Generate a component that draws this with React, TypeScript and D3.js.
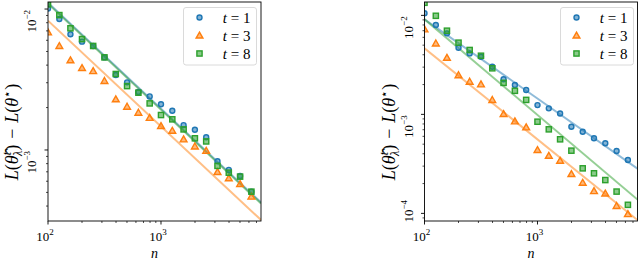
import React, { useEffect } from "react";
import * as d3 from "d3";

// sample sizes n (same for both panels)
const nValues = [100, 126, 158, 200, 251, 316, 398, 501, 631, 794, 1000, 1259, 1585, 1995, 2512, 3162, 3981, 5012, 6310];
const seriesLabels = ["1", "3", "8"];
const colors = ["#1f77b4", "#ff7f0e", "#2ca02c"];

// left panel: excess risk per t
const leftT1 = [0.0101, 0.00849, 0.00663, 0.00587, 0.00547, 0.00454, 0.0034, 0.00302, 0.00258, 0.0024, 0.00211, 0.0019, 0.0015, 0.00139, 0.00123, 0.000832, 0.000722, 0.000654, 0.000506];
const leftT3 = [0.00684, 0.00547, 0.00433, 0.00382, 0.00363, 0.00309, 0.00229, 0.00203, 0.00184, 0.00169, 0.00148, 0.00137, 0.00119, 0.00106, 0.000988, 0.000698, 0.00063, 0.000574, 0.000467];
const leftT8 = [0.0108, 0.00906, 0.0073, 0.00612, 0.00547, 0.00454, 0.00346, 0.00284, 0.00255, 0.00214, 0.00177, 0.00165, 0.0014, 0.00121, 0.00115, 0.000771, 0.00069, 0.000647, 0.000506];
// reference lines: log10 value at n=100 and slope in log-log
const leftFitAt100 = [-1.955, -2.083, -1.962];
const leftFitSlope = [-0.752, -0.75, -0.752];

// right panel
const rightT1 = [0.0105, 0.00798, 0.00658, 0.00471, 0.00413, 0.00382, 0.00303, 0.00226, 0.00198, 0.00176, 0.00124, 0.00115, 0.00102, 0.00075, 0.000668, 0.000573, 0.00051, 0.000426, 0.000346];
const rightT3 = [0.00723, 0.00521, 0.00373, 0.00249, 0.00214, 0.00201, 0.0014, 0.00101, 0.000851, 0.00074, 0.000437, 0.000382, 0.00034, 0.00025, 0.000204, 0.000168, 0.000159, 0.000119, 0.0000984];
const rightT8 = [0.0134, 0.0099, 0.007, 0.0053, 0.00447, 0.00391, 0.00292, 0.00208, 0.00173, 0.0014, 0.000843, 0.000706, 0.00056, 0.00043, 0.000285, 0.000254, 0.000217, 0.000166, 0.000122];
const rightFitAt100 = [-2.04, -2.333, -2.04];
const rightFitSlope = [-0.80, -0.92, -0.966];

const xDomain = [100, Math.pow(10, 3.885)];
const leftYDomain = [Math.pow(10, -3.504), Math.pow(10, -1.95)];
const rightYDomain = [Math.pow(10, -4.077), Math.pow(10, -1.865)];
const leftYMajor = [-2, -3];
const rightYMajor = [-2, -3, -4];
const xMajor = [2, 3];

const FONT = "'Liberation Serif', 'DejaVu Serif', serif";

function drawMarker(g, kind, x, y, color) {
    if (kind === 0) {
        g.append("circle").attr("cx", x).attr("cy", y).attr("r", 2.5)
            .attr("fill", color).attr("fill-opacity", 0.55)
            .attr("stroke", color).attr("stroke-width", 1.4);
    } else if (kind === 1) {
        const s = 3.4;
        g.append("path")
            .attr("d", `M${x},${y - s}L${x + s},${y + s * 0.75}L${x - s},${y + s * 0.75}Z`)
            .attr("fill", color).attr("fill-opacity", 0.55)
            .attr("stroke", color).attr("stroke-width", 1.4).attr("stroke-linejoin", "miter");
    } else {
        g.append("rect").attr("x", x - 2.6).attr("y", y - 2.6).attr("width", 5.2).attr("height", 5.2)
            .attr("fill", color).attr("fill-opacity", 0.55)
            .attr("stroke", color).attr("stroke-width", 1.4);
    }
}

function txt(sel, size, italic) {
    sel.style("font-family", FONT).style("font-size", size + "px");
    if (italic) sel.style("font-style", "italic");
    return sel;
}

function drawPanel(svg, cfg) {
    const { left, right, top, bottom, yDomain, yMajor, series, fitAt100, fitSlope, legendX } = cfg;

    var x = d3.scaleLog().domain(xDomain).range([left, right]);
    var y = d3.scaleLog().domain(yDomain).range([bottom, top]);

    const g = svg.append("g");
    const clipId = "clip" + Math.round(left);
    svg.append("clipPath").attr("id", clipId)
        .append("rect").attr("x", left).attr("y", top).attr("width", right - left).attr("height", bottom - top);

    const plot = g.append("g").attr("clip-path", `url(#${clipId})`);

    // reference lines
    fitAt100.forEach((b, i) => {
        const pts = xDomain.map(n => [n, Math.pow(10, b + fitSlope[i] * (Math.log10(n) - 2))]);
        plot.append("path")
            .attr("d", d3.line().x(d => x(d[0])).y(d => y(d[1]))(pts))
            .attr("stroke", colors[i]).attr("stroke-opacity", 0.5)
            .attr("stroke-width", 2).attr("fill", "none");
    });

    // markers
    series.forEach((vals, i) => {
        vals.forEach((v, k) => drawMarker(plot, i, x(nValues[k]), y(v), colors[i]));
    });

    // frame
    g.append("rect").attr("x", left).attr("y", top).attr("width", right - left).attr("height", bottom - top)
        .attr("fill", "none").attr("stroke", "#000").attr("stroke-width", 0.9);

    // x ticks
    for (let e = 2; e <= 3; e++) {
        for (let m = 1; m <= 9; m++) {
            const n = m * Math.pow(10, e);
            if (n > xDomain[1]) continue;
            const px = x(n);
            g.append("line").attr("x1", px).attr("x2", px).attr("y1", bottom).attr("y2", bottom + (m === 1 ? 3.5 : 2))
                .attr("stroke", "#000").attr("stroke-width", m === 1 ? 0.9 : 0.7);
        }
    }
    xMajor.forEach(e => {
        const t = txt(g.append("text"), 13).attr("x", x(Math.pow(10, e)) - 3).attr("y", 241)
            .attr("text-anchor", "middle");
        t.append("tspan").text("10");
        txt(t.append("tspan"), 9).attr("dy", -6).text(String(e));
    });
    txt(g.append("text"), 14, true).attr("x", (left + right) / 2).attr("y", 258).attr("text-anchor", "middle").text("n");

    // y ticks
    const eLo = Math.floor(Math.log10(yDomain[0])), eHi = Math.ceil(Math.log10(yDomain[1]));
    for (let e = eLo; e < eHi; e++) {
        for (let m = 1; m <= 9; m++) {
            const v = m * Math.pow(10, e);
            if (v < yDomain[0] || v > yDomain[1]) continue;
            const py = y(v);
            g.append("line").attr("x1", left).attr("x2", left - (m === 1 ? 3.5 : 2)).attr("y1", py).attr("y2", py)
                .attr("stroke", "#000").attr("stroke-width", m === 1 ? 0.9 : 0.7);
        }
    }
    yMajor.forEach(e => {
        let py = y(Math.pow(10, e)) + 1;
        if (py + 22 > bottom + 6) py = bottom - 21;
        const t = txt(g.append("text"), 13)
            .attr("transform", `translate(${left - 12},${py}) rotate(-90)`)
            .attr("text-anchor", "end");
        t.append("tspan").text("10");
        txt(t.append("tspan"), 9).attr("dy", -6).text("\u2212" + String(-e));
    });

    // y label: L(θ̂^t_λ) − L(θ*)
    const yl = txt(g.append("text"), 18)
        .attr("transform", `translate(${left - 30},132) rotate(-90)`)
        .attr("text-anchor", "middle");
    txt(yl.append("tspan"), 18, true).text("L");
    yl.append("tspan").text("(");
    txt(yl.append("tspan"), 18, true).text("\u03B8\u0302");
    txt(yl.append("tspan"), 12, true).attr("dy", -7).text("t");
    txt(yl.append("tspan"), 12, true).attr("dx", -4).attr("dy", 11).text("\u03BB");
    yl.append("tspan").attr("dy", -4).text(")\u2004\u2212\u2004");
    txt(yl.append("tspan"), 18, true).text("L");
    yl.append("tspan").text("(");
    txt(yl.append("tspan"), 18, true).text("\u03B8");
    txt(yl.append("tspan"), 12).attr("dy", -7).text("\u22C6");
    yl.append("tspan").attr("dy", 7).text(")");

    // legend
    const lg = g.append("g");
    lg.append("rect").attr("x", legendX).attr("y", 7.5).attr("width", 73).attr("height", 57.5)
        .attr("rx", 2.5).attr("fill", "#fff").attr("fill-opacity", 0.8)
        .attr("stroke", "#d6d6d6").attr("stroke-width", 0.9);
    seriesLabels.forEach((lab, i) => {
        const cy = 17.5 + i * 18;
        drawMarker(lg, i, legendX + 16, cy, colors[i]);
        const t = txt(lg.append("text"), 15).attr("x", legendX + 67).attr("y", cy + 5).attr("text-anchor", "end");
        txt(t.append("tspan"), 15, true).text("t");
        t.append("tspan").text(" = " + lab);
    });
}

function App() {
    const ref = React.useRef();

    useEffect(() => {
        ref.current.innerHTML = "";
        var svg = d3.select(ref.current);

        drawPanel(svg, {
            left: 48, right: 261, top: 2, bottom: 221,
            yDomain: leftYDomain, yMajor: leftYMajor,
            series: [leftT1, leftT3, leftT8],
            fitAt100: leftFitAt100, fitSlope: leftFitSlope,
            legendX: 183.5,
        });
        drawPanel(svg, {
            left: 424.5, right: 637.5, top: 2, bottom: 221,
            yDomain: rightYDomain, yMajor: rightYMajor,
            series: [rightT1, rightT3, rightT8],
            fitAt100: rightFitAt100, fitSlope: rightFitSlope,
            legendX: 560.5,
        });
        return () => {};
    }, []);

    return <svg
        ref={ref}
        width={640}
        height={261}
        style={{ position: "absolute", left: 0, top: 0, background: "#fff" }}
    />;
}
export default App;
